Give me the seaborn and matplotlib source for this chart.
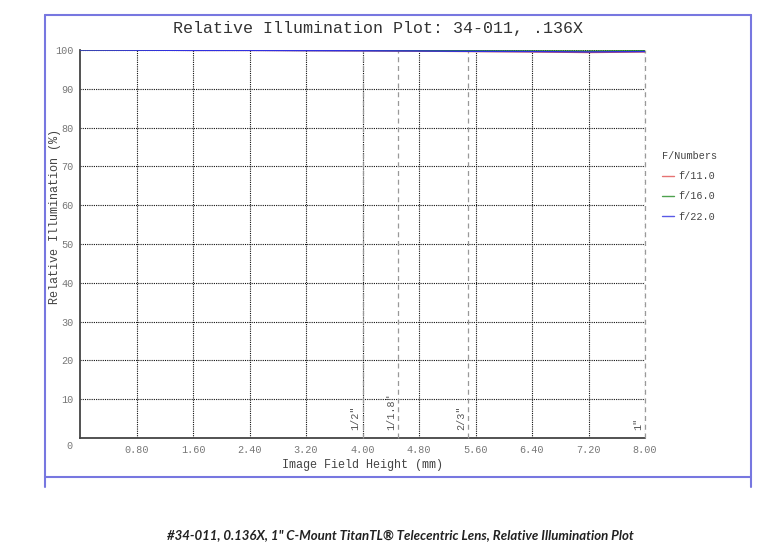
import numpy as np
import pandas as pd
import matplotlib
matplotlib.use('Agg')
import matplotlib.pyplot as plt
import seaborn as sns
from matplotlib.lines import Line2D

# Field positions (mm) and relative illumination (%)
field_mm = [0.0, 0.8, 1.6, 2.4, 3.2, 4.0, 4.8, 5.6, 6.4, 7.2, 8.0]
f11 = [100.0, 99.95, 99.9, 99.9, 99.85, 99.8, 99.7, 99.6, 99.5, 99.35, 99.5]
f16 = [100.0, 100.0, 99.95, 99.95, 99.9, 99.9, 99.85, 99.8, 99.75, 99.7, 99.8]
f22 = [100.0, 99.95, 99.9, 99.9, 99.85, 99.8, 99.75, 99.65, 99.6, 99.5, 99.6]
series_names = ['f/11.0', 'f/16.0', 'f/22.0']
series_colors = ['#e05050', '#228b22', '#3030e0']

# Sensor format markers (half diagonal, mm)
sensor_labels = ['1/2"', '1/1.8"', '2/3"', '1"']
sensor_pos = [4.0, 4.5, 5.5, 8.0]

xtick_vals = [0.8, 1.6, 2.4, 3.2, 4.0, 4.8, 5.6, 6.4, 7.2, 8.0]
ytick_vals = [10, 20, 30, 40, 50, 60, 70, 80, 90, 100]

df = pd.DataFrame({
    'Field': field_mm * 3,
    'RI': f11 + f16 + f22,
    'F': sum([[n] * len(field_mm) for n in series_names], []),
})

sns.set_style('white')
mono = 'Liberation Mono'
tick_gray = '#777777'

fig = plt.figure(figsize=(7.78, 5.46), dpi=100)
ax = fig.add_axes([80 / 778, 1 - 438 / 546, 565 / 778, 388 / 546])

sns.lineplot(data=df, x='Field', y='RI', hue='F', palette=dict(zip(series_names, series_colors)),
             linewidth=1.0, ax=ax, legend=False, zorder=5)

ax.set_xlim(0, 8)
ax.set_ylim(0, 100)
ax.set_xticks(xtick_vals)
ax.set_xticklabels([f'{v:.2f}' for v in xtick_vals], family=mono, fontsize=7.3, color=tick_gray)
ax.set_yticks(ytick_vals)
ax.set_yticklabels([str(v) for v in ytick_vals], family=mono, fontsize=7.3, color=tick_gray)
ax.tick_params(axis='y', length=4, width=0.8, color='#555555', pad=0.5)
ax.tick_params(axis='x', length=0, pad=5)
ax.grid(True, color='#111111', linestyle=(0, (1, 1)), linewidth=0.8)
ax.set_axisbelow(True)

for side in ['top', 'right']:
    ax.spines[side].set_visible(False)
for side in ['left', 'bottom']:
    ax.spines[side].set_color('#444444')
    ax.spines[side].set_linewidth(1.3)

# origin label
ax.annotate('0', xy=(0, 0), xytext=(-7.5, -6), textcoords='offset points',
            ha='center', va='center', family=mono, fontsize=7.3, color=tick_gray)

# sensor format lines
for lab, pos in zip(sensor_labels, sensor_pos):
    ax.axvline(pos, color='#999999', linestyle=(0, (4, 3)), linewidth=0.9, zorder=3, clip_on=False)
    ax.annotate(lab, xy=(pos, 0), xytext=(-5, 6), textcoords='offset points',
                rotation=90, ha='center', va='bottom', family=mono, fontsize=7.3, color='#555555')

ax.set_xlabel('Image Field Height (mm)', family=mono, fontsize=8.5, color='#444444', labelpad=3)
ax.set_ylabel('Relative Illumination (%)', family=mono, fontsize=8.5, color='#444444')
ax.yaxis.set_label_coords((55 - 80) / 565, (438 - 216) / 388)
ax.yaxis.label.set_va('center')

fig.text(378 / 778, 1 - 28 / 546, 'Relative Illumination Plot: 34-011, .136X',
         ha='center', va='center', family=mono, fontsize=12, color='#333333')

handles = [Line2D([0], [0], color=c, lw=1.0, alpha=0.8) for c in series_colors]
leg = fig.legend(handles, series_names, title='F/Numbers', loc='upper left',
                 bbox_to_anchor=(653 / 778, 1 - 142 / 546), frameon=False,
                 prop={'family': mono, 'size': 7.3}, handlelength=1.2, handletextpad=0.4,
                 labelspacing=1.0, alignment='left')
leg.get_title().set_fontfamily(mono)
leg.get_title().set_fontsize(7.3)
leg.get_title().set_color('#444444')
for t in leg.get_texts():
    t.set_color('#444444')

# outer blue frame
box_color = '#7777e0'
L, R = 45 / 778, 751 / 778
T, B = 1 - 15 / 546, 1 - 477 / 546
B2 = 1 - 487 / 546
fig.add_artist(Line2D([L, R], [T, T], color=box_color, lw=1.5, transform=fig.transFigure))
fig.add_artist(Line2D([L, R], [B, B], color=box_color, lw=1.5, transform=fig.transFigure))
fig.add_artist(Line2D([L, L], [T, B2], color=box_color, lw=1.5, transform=fig.transFigure))
fig.add_artist(Line2D([R, R], [T, B2], color=box_color, lw=1.5, transform=fig.transFigure))

fig.text(400 / 778, 1 - 535 / 546,
         '#34-011, 0.136X, 1" C-Mount TitanTL® Telecentric Lens, Relative Illumination Plot',
         ha='center', va='center', family='Lato', style='italic', fontweight='bold',
         fontsize=9.5, color='#222222')

fig.savefig('out.png', dpi=100)
